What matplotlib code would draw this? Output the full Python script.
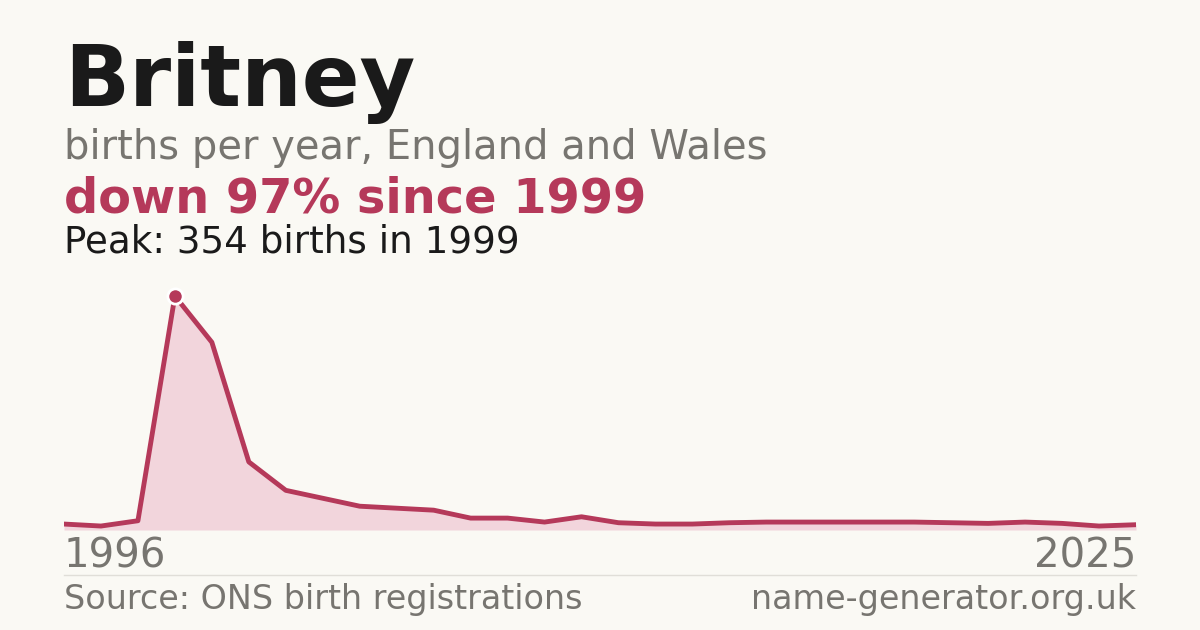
import matplotlib
matplotlib.use("Agg")
import matplotlib.pyplot as plt

years = list(range(1996, 2026))
births = [9, 6, 14, 354, 284, 103, 60, 48, 36, 33, 30, 18, 18, 12, 20, 11,
          9, 9, 11, 12, 12, 12, 12, 12, 11, 10, 12, 10, 6, 8]
peak_year, peak_val = 1999, 354

BG = "#faf9f4"
ACCENT = "#b5395a"
GREY = "#777570"

W, H = 1200, 630
fig = plt.figure(figsize=(12, 6.3), dpi=100, facecolor=BG)

def px(x, y):
    return x / W, 1 - y / H

# chart area: x 64..1136, y 280..530 px
ax = fig.add_axes([64 / W, 100 / H, (1136 - 64) / W, 250 / H])
ax.set_facecolor(BG)
ax.fill_between(years, births, 0, color="#f2d5dc", lw=0)
ax.plot(years, births, color=ACCENT, lw=3.5, solid_capstyle="round", solid_joinstyle="round")
ax.plot([peak_year], [peak_val], "o", ms=11, color=ACCENT, mec="white", mew=2, zorder=5)
ax.set_xlim(years[0], years[-1])
ax.set_ylim(0, 250 / 0.661)
ax.axis("off")

fig.text(*px(64, 83), "Britney", fontsize=61.5, fontweight="bold", color="#1a1a1a", va="center")
fig.text(*px(64, 148), "births per year, England and Wales", fontsize=28.8, color=GREY, va="center")
fig.text(*px(64, 199), "down 97% since 1999", fontsize=34.5, fontweight="bold", color=ACCENT, va="center")
fig.text(*px(64, 242), f"Peak: {peak_val} births in {peak_year}", fontsize=26.8, color="#1a1a1a", va="center")

fig.text(*px(64, 556), str(years[0]), fontsize=29, color=GREY, va="center")
fig.text(*px(1136, 556), str(years[-1]), fontsize=29, color=GREY, va="center", ha="right")
fig.add_artist(plt.Line2D([64 / W, 1136 / W], [1 - 575 / H] * 2, color="#e0ded8", lw=1))
fig.text(*px(64, 600), "Source: ONS birth registrations", fontsize=24, color=GREY, va="center")
fig.text(*px(1136, 600), "name-generator.org.uk", fontsize=24, color=GREY, va="center", ha="right")

fig.savefig("out.png", dpi=100, facecolor=BG)
